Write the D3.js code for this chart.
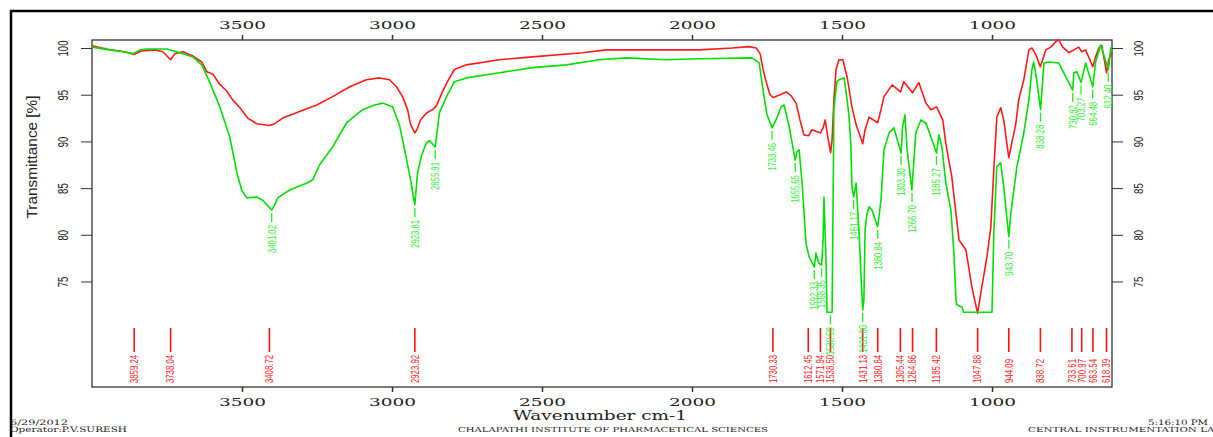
<!DOCTYPE html>
<html lang="en">
<head>
<meta charset="UTF-8">
<title>IR Spectrum</title>
<script src="https://d3js.org/d3.v7.min.js"></script>
<style>
  body { margin: 0; background: #fff; }
  svg { display: block; }
  .axis path, .axis line { stroke: #333; }
  .serif { font-family: 'DejaVu Serif', 'Liberation Serif', serif; fill: #222; }
  .sans { font-family: 'Liberation Sans', Arial, sans-serif; fill: #222; }
</style>
</head>
<body>
<div id="chart"></div>
<script>
// red spectrum (wavenumber, transmittance)
const redWn = [4000,3940,3890,3860,3834,3790,3764,3738,3724,3697,3667,3634,3617,3597,3574,3551,3531,3507,3481,3451,3409,3391,3364,3308,3251,3198,3141,3085,3041,3008,2985,2965,2948,2938,2924,2915,2905,2885,2865,2852,2832,2812,2792,2752,2642,2532,2365,2286,2086,1976,1866,1810,1786,1773,1763,1753,1740,1730,1706,1686,1670,1653,1640,1627,1612,1600,1587,1572,1563,1556,1548,1538,1533,1527,1520,1510,1497,1483,1467,1453,1431,1423,1410,1381,1370,1360,1333,1305,1294,1265,1244,1220,1204,1185,1164,1154,1134,1110,1087,1067,1048,1034,1017,1004,994,984,971,961,944,934,921,911,894,877,867,854,839,831,821,804,787,778,764,744,727,711,701,688,664,655,644,634,618,611,604,600];
const redT = [100.25,99.8,99.6,99.3,99.7,99.8,99.6,98.75,99.4,99.6,99.2,98.5,97.45,97.2,96.1,95.4,94.45,93.6,92.5,91.9,91.7,91.9,92.5,93.2,93.9,94.8,95.85,96.6,96.8,96.6,95.85,94.8,93.4,91.8,90.9,91.4,92.3,93.05,93.4,93.8,95.3,96.6,97.7,98.2,98.75,99.05,99.5,99.8,99.8,99.8,100.0,100.15,100,99.4,97.7,96.4,95.0,94.7,95.0,95.3,94.9,94.1,92.3,90.7,90.6,91.25,91.1,90.9,91.45,92.3,90.6,88.8,90.2,94.45,97.7,98.75,98.75,96.9,93.7,91.8,89.75,91.25,92.6,92.0,93.4,94.8,96.05,95.3,96.4,95.2,96.3,94.1,93.4,93.7,92.3,89.8,86.2,79.45,78.4,74.4,71.6,74.4,77.6,80.8,86.95,92.6,93.6,92.3,88.25,89.85,91.8,94.45,96.6,99.8,100,99.3,98.0,98.75,99.8,100.1,100.7,100.9,100.1,99.5,99.8,100.1,99.6,99.8,98.0,99.0,100,100.25,97.35,98.75,99.3,99.5];

// green spectrum (wavenumber, transmittance)
const greenWn = [4000,3940,3897,3863,3840,3817,3750,3740,3707,3664,3634,3607,3574,3541,3517,3501,3484,3451,3431,3414,3401,3391,3381,3341,3284,3264,3241,3198,3151,3098,3058,3031,2998,2975,2958,2941,2924,2915,2901,2885,2875,2856,2842,2818,2792,2752,2642,2532,2419,2309,2219,2086,1976,1800,1776,1760,1750,1733,1720,1703,1693,1676,1656,1650,1643,1633,1620,1610,1592,1587,1577,1568,1563,1560,1553,1550,1533,1527,1517,1510,1493,1483,1477,1470,1467,1461,1453,1443,1437,1431,1427,1423,1417,1410,1400,1381,1370,1360,1343,1327,1303,1298,1290,1283,1267,1254,1237,1220,1204,1185,1177,1167,1154,1137,1127,1120,1117,1100,1094,1000,994,984,971,961,944,937,917,894,877,867,861,851,838,832,827,811,778,754,731,727,717,703,688,664,655,638,628,612,604,600];
const greenT = [100.1,99.8,99.6,99.4,99.8,99.9,99.9,99.8,99.5,99.05,98.2,96.3,93.7,90.5,86.65,84.8,83.95,84.05,83.7,83.1,82.65,83.2,83.95,84.8,85.55,85.9,87.5,89.4,92.0,93.4,93.9,94.1,93.7,91.75,89.1,86.4,83.2,86.6,88.55,89.85,90.1,89.4,93.05,94.8,96.4,96.8,97.35,97.9,98.2,98.75,98.95,98.75,98.85,98.95,98.4,94.8,92.85,91.45,92.3,93.7,93.9,91.55,88.0,88.9,89.1,85.55,79.1,77.65,76.55,78.05,76.95,76.75,79.45,84.05,76.95,71.7,71.7,93.4,96.4,96.6,96.8,94.45,92.85,89.4,85.15,84.05,85.55,80.2,75.9,71.95,73.0,80.55,82.15,83.0,82.65,80.85,83.75,89.1,90.9,91.45,88.75,91.55,92.85,89.1,84.8,90.9,92.3,91.95,90.5,88.75,90.7,89.4,85.55,82.65,78.05,73.0,72.5,72.25,71.7,71.7,80.2,87.3,87.7,85.15,79.8,82.35,87.3,90.9,94.45,97.65,98.5,96.6,93.4,96.05,98.4,98.5,98.4,96.9,95.5,97.35,97.45,96.3,98.4,95.85,98.4,100.35,99.3,97.7,100.0,100.2];

// peak picking labels
const greenPeakLabels = ["3401.02","2923.81","2855.91","1733.46","1655.65","1592.33","1568.35","1538.50","1461.17","1431.00","1380.84","1303.30","1266.70","1185.27","943.70","838.28","730.82","703.27","664.48","612.40"];
const greenPeakT = [82.65,83.2,89.4,91.45,88.0,76.55,76.75,71.7,84.05,71.95,80.85,88.75,84.8,88.75,79.8,93.4,95.5,96.3,95.85,97.7];
const redPeakLabels = ["3859.24","3738.04","3408.72","2923.92","1730.33","1612.45","1571.94","1538.50","1431.13","1380.84","1305.44","1264.86","1185.42","1047.88","944.09","838.72","733.61","700.97","663.54","618.39"];

const xTicks = [3500, 3000, 2500, 2000, 1500, 1000];
const yTicks = [75, 80, 85, 90, 95, 100];

const W = 1213, H = 437;
const svg = d3.select("#chart").append("svg").attr("width", W).attr("height", H);

const x = d3.scaleLinear().domain([4000, 600]).range([92, 1112]);
const y = d3.scaleLinear().domain([63.7, 100.86]).range([387, 40]);

// outer frame (runs off the right and bottom)
svg.append("path")
  .attr("d", `M11,${H + 5} L11,11 L${W + 5},11`)
  .attr("fill", "none").attr("stroke", "#000").attr("stroke-width", 2.5);

// plot box
svg.append("rect")
  .attr("x", x.range()[0]).attr("y", y.range()[1])
  .attr("width", x.range()[1] - x.range()[0])
  .attr("height", y.range()[0] - y.range()[1])
  .attr("fill", "none").attr("stroke", "#333").attr("stroke-width", 1.3);

function styleX(g) {
  g.select(".domain").remove();
  g.selectAll("line").attr("stroke-width", 1.5);
  g.selectAll("text").attr("class", "serif").attr("font-size", 11)
    .attr("textLength", 47).attr("lengthAdjust", "spacingAndGlyphs");
}

svg.append("g").attr("class", "axis").attr("transform", "translate(0,40)")
  .call(d3.axisTop(x).tickValues(xTicks).tickFormat(d3.format("d")).tickSize(5).tickPadding(6).tickSizeOuter(0))
  .call(styleX);
svg.append("g").attr("class", "axis").attr("transform", "translate(0,387)")
  .call(d3.axisBottom(x).tickValues(xTicks).tickFormat(d3.format("d")).tickSize(5).tickPadding(6).tickSizeOuter(0))
  .call(styleX);

function styleY(g, off, size) {
  g.select(".domain").remove();
  g.selectAll("text").attr("class", "sans").attr("font-size", size)
    .attr("x", null).attr("dy", null).attr("text-anchor", "middle")
    .attr("transform", `translate(${off},0) rotate(-90)`)
    .attr("textLength", function(d) { return String(d).length * 5.3; })
    .attr("lengthAdjust", "spacingAndGlyphs");
}

svg.append("g").attr("class", "axis").attr("transform", "translate(92,0)")
  .call(d3.axisLeft(y).tickValues(yTicks).tickSize(11).tickSizeOuter(0))
  .call(g => styleY(g, -24, 15));
svg.append("g").attr("class", "axis").attr("transform", "translate(1112,0)")
  .call(d3.axisRight(y).tickValues(yTicks).tickSize(11).tickSizeOuter(0))
  .call(g => styleY(g, 31, 12));

// y label
svg.append("text").attr("class", "sans").attr("font-size", 14)
  .attr("text-anchor", "middle")
  .attr("transform", "translate(37,157) rotate(-90)")
  .attr("textLength", 123).attr("lengthAdjust", "spacingAndGlyphs")
  .text("Transmittance [%]");

// spectra
const line = d3.line().x(d => x(d[0])).y(d => y(d[1]));
svg.append("path").datum(d3.zip(redWn, redT))
  .attr("fill", "none").attr("stroke", "#ff1a1a").attr("stroke-width", 1.6)
  .attr("stroke-linejoin", "round").attr("d", line);
svg.append("path").datum(d3.zip(greenWn, greenT))
  .attr("fill", "none").attr("stroke", "#00e000").attr("stroke-width", 1.6)
  .attr("stroke-linejoin", "round").attr("d", line);

// red peak markers along the bottom
const redG = svg.append("g");
redPeakLabels.forEach(l => {
  const px = x(+l);
  redG.append("line").attr("x1", px).attr("x2", px).attr("y1", 328).attr("y2", 352)
    .attr("stroke", "#ff1010").attr("stroke-width", 1.6);
  redG.append("text").attr("class", "sans").attr("font-size", 11)
    .style("fill", "#ff2020")
    .attr("transform", `translate(${px},383) rotate(-90)`)
    .attr("dy", "0.35em").attr("text-anchor", "start")
    .attr("textLength", l.length * 4).attr("lengthAdjust", "spacingAndGlyphs")
    .text(l);
});

// green peak labels under each minimum
const greenG = svg.append("g");
greenPeakLabels.forEach((l, i) => {
  const px = x(+l), py = y(greenPeakT[i]);
  greenG.append("line").attr("x1", px).attr("x2", px).attr("y1", py + 3).attr("y2", py + 12)
    .attr("stroke", "#22ee22").attr("stroke-width", 1.3);
  greenG.append("text").attr("class", "sans").attr("font-size", 11)
    .style("fill", "#33ee33")
    .attr("transform", `translate(${px},${py + 15}) rotate(-90)`)
    .attr("dy", "0.35em").attr("text-anchor", "end")
    .attr("textLength", l.length * 4).attr("lengthAdjust", "spacingAndGlyphs")
    .text(l);
});

// titles and footer
function txt(s, tx, ty, size, len, anchor) {
  svg.append("text").attr("class", "serif").attr("font-size", size)
    .attr("x", tx).attr("y", ty).attr("text-anchor", anchor || "start")
    .attr("textLength", len).attr("lengthAdjust", "spacingAndGlyphs")
    .text(s);
}
txt("Wavenumber cm-1", 600, 420, 12.5, 174, "middle");
txt("CHALAPATHI INSTITUTE OF PHARMACETICAL SCIENCES", 458, 432, 7, 310);
txt("6/29/2012", 10, 425, 7.5, 58);
txt("Operator:P.V.SURESH", 10, 432, 7.5, 117);
txt("5:16:10 PM", 1148, 425, 7.5, 60);
txt("CENTRAL INSTRUMENTATION LAB", 1028, 432, 7, 194);
</script>
</body>
</html>
